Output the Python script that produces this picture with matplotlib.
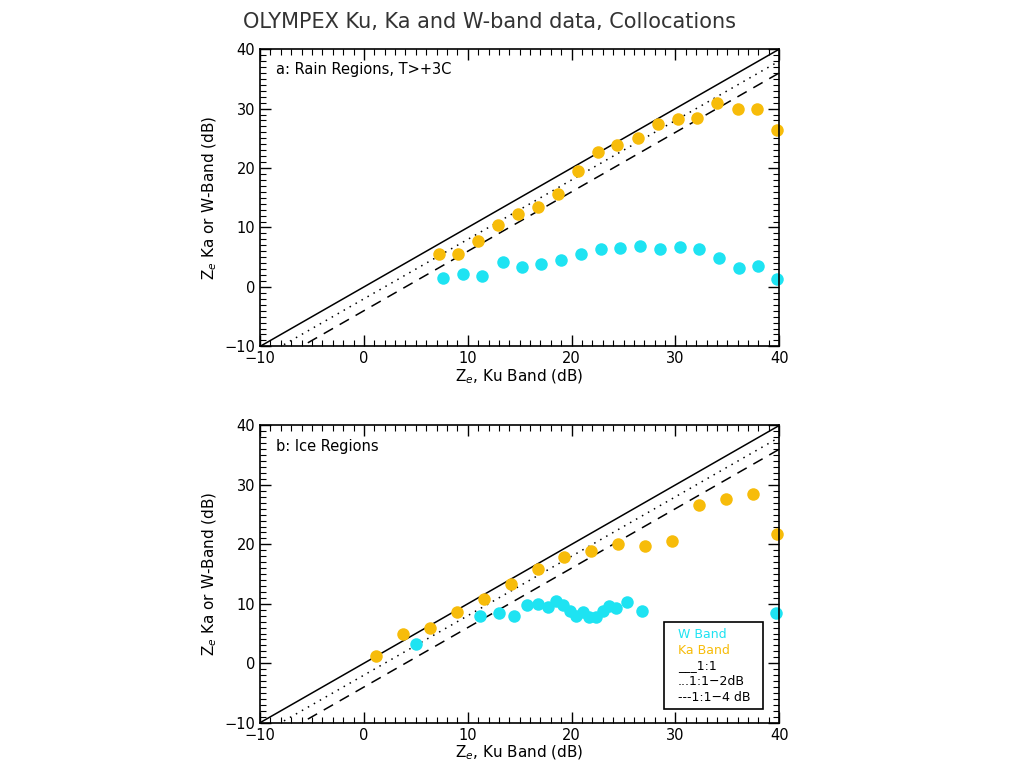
import numpy as np
import matplotlib.pyplot as plt
from matplotlib.patches import Rectangle
from matplotlib.ticker import MultipleLocator

# Panel a: rain regions (bin means)
rain_ka_x = [7.2, 9.1, 11.0, 12.9, 14.8, 16.75, 18.7, 20.6, 22.5, 24.4, 26.35, 28.3, 30.2, 32.1, 34.05, 36.0, 37.9, 39.8]
rain_ka_y = [5.6, 5.6, 7.8, 10.4, 12.2, 13.45, 15.6, 19.5, 22.7, 23.95, 25.1, 27.4, 28.2, 28.5, 31.0, 30.0, 30.0, 26.4]
rain_w_x = [7.6, 9.5, 11.4, 13.35, 15.25, 17.1, 19.0, 20.9, 22.8, 24.7, 26.6, 28.5, 30.4, 32.3, 34.2, 36.1, 37.95, 39.8]
rain_w_y = [1.45, 2.1, 1.85, 4.2, 3.35, 3.8, 4.5, 5.55, 6.45, 6.55, 6.85, 6.4, 6.7, 6.3, 4.9, 3.1, 3.6, 1.3]

# Panel b: ice regions (bin means)
ice_ka_x = [1.15, 3.75, 6.35, 8.95, 11.55, 14.15, 16.75, 19.3, 21.9, 24.5, 27.1, 29.7, 32.3, 34.9, 37.5, 39.8]
ice_ka_y = [1.3, 4.9, 5.85, 8.65, 10.8, 13.3, 15.9, 17.95, 18.8, 20.1, 19.8, 20.6, 26.6, 27.7, 28.4, 21.7]
ice_w_x = [5.0, 11.2, 13.0, 14.5, 15.7, 16.8, 17.7, 18.5, 19.2, 19.8, 20.4, 21.1, 21.7, 22.35, 23.0, 23.65, 24.3, 25.3, 26.8, 39.7]
ice_w_y = [3.3, 7.9, 8.4, 7.9, 9.8, 9.95, 9.5, 10.55, 9.8, 8.8, 8.0, 8.7, 7.75, 7.75, 8.85, 9.55, 9.3, 10.3, 8.8, 8.45]

ref_offsets = [0, -2, -4]
ref_styles = ['-', (0, (1, 3.5)), (0, (7, 5))]

KA_COL = '#F7BC0A'
W_COL = '#1EE3F2'

fig = plt.figure(figsize=(10.24, 7.68), dpi=100)
fig.text(0.478, 0.985, 'OLYMPEX Ku, Ka and W-band data, Collocations',
         ha='center', va='top', fontsize=15, color='#333333')

panels = [
    ([0.254, 0.549, 0.507, 0.387], rain_ka_x, rain_ka_y, rain_w_x, rain_w_y, 'a: Rain Regions, T>+3C'),
    ([0.254, 0.059, 0.507, 0.387], ice_ka_x, ice_ka_y, ice_w_x, ice_w_y, 'b: Ice Regions'),
]

for idx, (rect, kx, ky, wx, wy, label) in enumerate(panels):
    ax = fig.add_axes(rect)
    xx = np.array([-10, 40])
    for off, ls in zip(ref_offsets, ref_styles):
        ax.plot(xx, xx + off, color='black', linestyle=ls, linewidth=1.1)
    ax.plot(kx, ky, 'o', color=KA_COL, markersize=9, markeredgewidth=0, clip_on=False)
    ax.plot(wx, wy, 'o', color=W_COL, markersize=9, markeredgewidth=0, clip_on=False)

    ax.set_xlim(-10, 40)
    ax.set_ylim(-10, 40)
    ax.xaxis.set_major_locator(MultipleLocator(10))
    ax.xaxis.set_minor_locator(MultipleLocator(1))
    ax.yaxis.set_major_locator(MultipleLocator(10))
    ax.yaxis.set_minor_locator(MultipleLocator(1))
    ax.tick_params(which='both', direction='in', top=True, right=True, labelsize=10.5)
    ax.tick_params(which='major', length=8, width=1)
    ax.tick_params(which='minor', length=4, width=0.8)
    for s in ax.spines.values():
        s.set_linewidth(1.2)

    ax.set_xlabel('Z$_e$, Ku Band (dB)', fontsize=11, labelpad=1)
    ax.set_ylabel('Z$_e$ Ka or W-Band (dB)', fontsize=11, labelpad=4)
    ax.text(0.03, 0.93, label, transform=ax.transAxes, fontsize=10.5, va='center')

    if idx == 1:
        ax.add_patch(Rectangle((0.778, 0.047), 0.191, 0.292, transform=ax.transAxes,
                               fill=True, facecolor='white', edgecolor='black', linewidth=1.2, zorder=5))
        items = [('W Band', W_COL), ('Ka Band', KA_COL), ('___1:1', 'black'),
                 ('...1:1\u22122dB', 'black'), ('---1:1\u22124 dB', 'black')]
        for j, (t, c) in enumerate(items):
            ax.text(0.805, 0.298 - j * 0.0535, t, transform=ax.transAxes, color=c,
                    fontsize=9, va='center', zorder=6)

fig.savefig('out.png', dpi=100)
